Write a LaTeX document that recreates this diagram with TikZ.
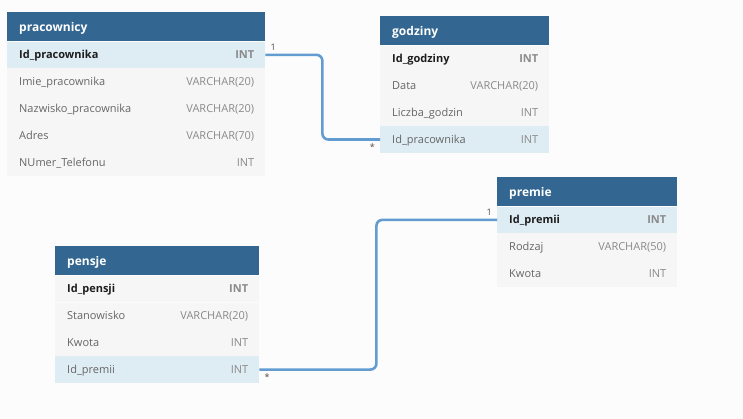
\documentclass[tikz,border=0pt]{standalone}
\usepackage{fontspec}
\setmainfont{Open Sans}
\definecolor{bgc}{HTML}{FCFCFC}
\definecolor{hdrc}{HTML}{336791}
\definecolor{hlc}{HTML}{DEECF4}
\definecolor{rowc}{HTML}{F6F6F6}
\definecolor{connc}{RGB}{98,156,208}
\definecolor{pkc}{HTML}{1E1E1E}
\definecolor{fldc}{HTML}{666666}
\definecolor{typc}{HTML}{8A8A8A}
\definecolor{lblc}{HTML}{5A4A40}
\newcommand\pkf[1]{\textcolor{pkc}{\bfseries #1}}
\newcommand\pkt[1]{\textcolor{typc}{\bfseries #1}}
\newcommand\fldrow[5]{%
  \node[row, fill=#3] (#1) at (#2.south west) {};
  \node[fieldtxt] at ([xshift=12pt,yshift=-4pt]#1.west) {#4};
  \node[typetxt] at ([xshift=-11pt,yshift=-4pt]#1.east) {#5};}
\tikzset{
  hdr/.style={rectangle, fill=hdrc, minimum height=29pt, inner sep=0pt, anchor=north west},
  hdrtxt/.style={anchor=base west, inner sep=0pt, text=white, font=\fontsize{12}{14}\selectfont\bfseries},
  row/.style={rectangle, minimum height=26.5pt, inner sep=0pt, anchor=north west},
  fieldtxt/.style={anchor=base west, inner sep=0pt, text=fldc, font=\fontsize{11}{13}\selectfont},
  typetxt/.style={anchor=base east, inner sep=0pt, text=typc, font=\fontsize{11}{13}\selectfont},
  conn/.style={draw=connc, line width=2.6pt, rounded corners=6pt},
  lbl/.style={inner sep=0pt, text=lblc, font=\fontsize{9}{10}\selectfont}
}
\begin{document}
\begin{tikzpicture}[x=1pt,y=-1pt]
\fill[bgc] (0,0) rectangle (743,419);
\useasboundingbox (0,0) rectangle (743,419);

% pracownicy
\begin{scope}[hdr/.append style={minimum width=258pt}, row/.append style={minimum width=258pt}]
\node[hdr] (ph) at (7,12) {};
\node[hdrtxt] at ([xshift=12pt,yshift=-4.5pt]ph.west) {pracownicy};
\fldrow{p1}{ph}{hlc}{\pkf{Id\_pracownika}}{\pkt{INT}}
\fldrow{p2}{p1}{rowc}{Imie\_pracownika}{VARCHAR(20)}
\fldrow{p3}{p2}{rowc}{Nazwisko\_pracownika}{VARCHAR(20)}
\fldrow{p4}{p3}{rowc}{Adres}{VARCHAR(70)}
\fldrow{p5}{p4}{rowc}{NUmer\_Telefonu}{INT}
\end{scope}

% godziny
\begin{scope}[hdr/.append style={minimum width=169pt}, row/.append style={minimum width=169pt}]
\node[hdr] (gh) at (380,16) {};
\node[hdrtxt] at ([xshift=12pt,yshift=-4.5pt]gh.west) {godziny};
\fldrow{g1}{gh}{rowc}{\pkf{Id\_godziny}}{\pkt{INT}}
\fldrow{g2}{g1}{rowc}{Data}{VARCHAR(20)}
\fldrow{g3}{g2}{rowc}{Liczba\_godzin}{INT}
\fldrow{g4}{g3}{hlc}{Id\_pracownika}{INT}
\end{scope}

% premie
\begin{scope}[hdr/.append style={minimum width=180pt}, row/.append style={minimum width=180pt}]
\node[hdr] (mh) at (497,177) {};
\node[hdrtxt] at ([xshift=12pt,yshift=-4.5pt]mh.west) {premie};
\fldrow{m1}{mh}{hlc}{\pkf{Id\_premii}}{\pkt{INT}}
\fldrow{m2}{m1}{rowc}{Rodzaj}{VARCHAR(50)}
\fldrow{m3}{m2}{rowc}{Kwota}{INT}
\end{scope}

% pensje
\begin{scope}[hdr/.append style={minimum width=204pt}, row/.append style={minimum width=204pt}]
\node[hdr] (sh) at (55,246) {};
\node[hdrtxt] at ([xshift=12pt,yshift=-4.5pt]sh.west) {pensje};
\fldrow{s1}{sh}{rowc}{\pkf{Id\_pensji}}{\pkt{INT}}
\fldrow{s2}{s1}{rowc}{Stanowisko}{VARCHAR(20)}
\fldrow{s3}{s2}{rowc}{Kwota}{INT}
\fldrow{s4}{s3}{hlc}{Id\_premii}{INT}
\end{scope}

% connectors
\draw[conn] (p1.east) -- ++(57,0) |- (g4.west);
\draw[conn] (s4.east) -- ++(117,0) |- (m1.west);

\node[lbl, anchor=south west] (l1) at ([xshift=5pt,yshift=4pt]p1.east) {1};
\node[lbl, anchor=north east] (l2) at ([xshift=-5pt,yshift=-4pt]g4.west) {*};
\node[lbl, anchor=south east] (l3) at ([xshift=-5pt,yshift=4pt]m1.west) {1};
\node[lbl, anchor=north west] (l4) at ([xshift=5pt,yshift=-4pt]s4.east) {*};
\end{tikzpicture}
\end{document}
